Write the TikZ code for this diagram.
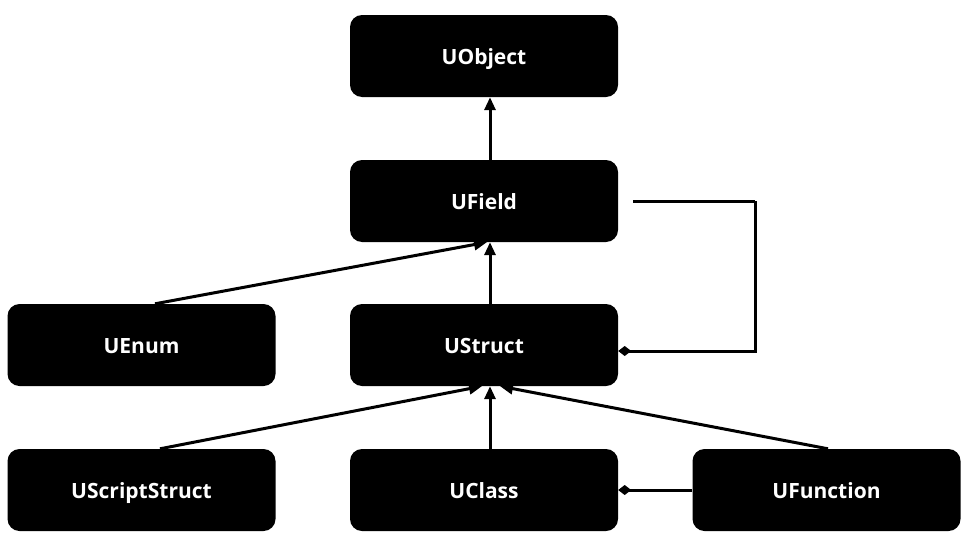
\documentclass[tikz,border=0pt]{standalone}
\usepackage{fontspec}
\setmainfont{Open Sans}
\usetikzlibrary{arrows.meta}
\begin{document}
\begin{tikzpicture}[x=1pt,y=-1pt,
  box/.style={draw=none,fill=black,rounded corners=12pt,minimum width=268pt,minimum height=82pt,
    text=white,font=\bfseries\fontsize{21}{24}\selectfont,inner sep=0pt,text height=17pt,text depth=0pt},
  inh/.style={line width=3pt,-{Triangle[length=13pt,width=11pt]}},
  agg/.style={line width=3pt,-{Diamond[length=13pt,width=10pt]}}]
\useasboundingbox (0,0) rectangle (969,546);
\node[box] (uobject) at (484,56) {UObject};
\node[box] (ufield) at (484,201) {UField};
\node[box] (uenum) at (141.5,345) {UEnum};
\node[box] (ustruct) at (484,345) {UStruct};
\node[box] (uscriptstruct) at (141.5,490) {UScriptStruct};
\node[box] (uclass) at (484,490) {UClass};
\node[box] (ufunction) at (826.5,490) {UFunction};
\draw[inh] ([xshift=6pt]ufield.north) -- ([xshift=6pt]uobject.south);
\draw[inh] ([xshift=6pt]ustruct.north) -- ([xshift=6pt]ufield.south);
\draw[inh] ([xshift=13.5pt]uenum.north) -- ([xshift=3pt]ufield.south);
\draw[inh] ([xshift=6pt]uclass.north) -- ([xshift=6pt]ustruct.south);
\draw[inh] ([xshift=18.5pt]uscriptstruct.north) -- ([xshift=-2pt]ustruct.south);
\draw[inh] ([xshift=1.5pt]ufunction.north) -- ([xshift=16pt]ustruct.south);
\draw[line width=3pt] ([xshift=15pt]ufield.east) -- ++(122,0) coordinate (bend);
\draw[agg] (bend) |- ([yshift=-6pt]ustruct.east);
\draw[agg] (ufunction.west) -- (uclass.east);
\end{tikzpicture}
\end{document}
